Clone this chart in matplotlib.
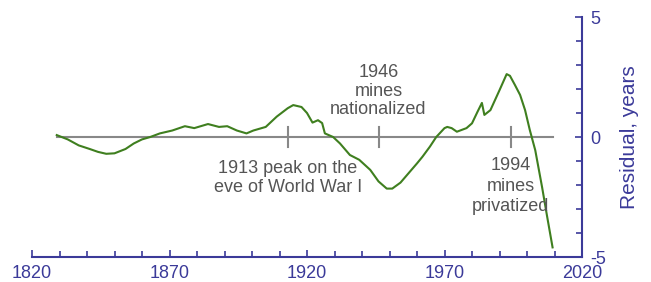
import numpy as np
import matplotlib.pyplot as plt
from matplotlib.ticker import MultipleLocator

# residual curve
years = [1829, 1833, 1837, 1841, 1844, 1847, 1850, 1854, 1857, 1860, 1863, 1866.5,
         1871, 1875.6, 1879, 1884, 1888, 1891, 1894.5, 1898, 1900.5, 1905, 1909,
         1913, 1915, 1918, 1920, 1922, 1924, 1925.5, 1926.5, 1929.5, 1932, 1935.6,
         1939, 1943, 1946, 1949, 1951, 1954, 1957, 1960, 1962, 1964.7, 1967, 1970,
         1971, 1972.6, 1974.5, 1978, 1980, 1982, 1983.6, 1984.5, 1986.7, 1990,
         1992.6, 1993.8, 1995.6, 1997.5, 1999.3, 2001, 2003, 2005.5, 2007.3, 2009.3]
resid = [0.08, -0.1, -0.35, -0.5, -0.62, -0.7, -0.68, -0.5, -0.27, -0.1, 0.0, 0.15,
         0.27, 0.45, 0.37, 0.54, 0.42, 0.45, 0.27, 0.15, 0.27, 0.42, 0.85,
         1.2, 1.33, 1.25, 1.0, 0.6, 0.7, 0.58, 0.15, 0.0, -0.27, -0.75,
         -0.95, -1.37, -1.85, -2.15, -2.15, -1.9, -1.5, -1.1, -0.82, -0.4, 0.0, 0.37,
         0.42, 0.37, 0.22, 0.37, 0.57, 1.05, 1.42, 0.92, 1.12, 1.95,
         2.62, 2.55, 2.17, 1.75, 1.12, 0.3, -0.55, -2.1, -3.3, -4.6]

events = [1913, 1946, 1994]
event_text = ['1913 peak on the\neve of World War I', '1946\nmines\nnationalized',
              '1994\nmines\nprivatized']

navy = '#3b3a99'
green = '#3f7f1f'
grey = '#888888'
textgrey = '#555555'

plt.rcParams['font.family'] = ['Liberation Sans', 'DejaVu Sans']

fig = plt.figure(figsize=(6.51, 2.82), dpi=100)
ax = fig.add_axes([32/651, 25/282, 550/651, 240/282])

ax.plot([1829, 2009.5], [0, 0], color=grey, lw=1.5, zorder=1)
for yr in events:
    ax.plot([yr, yr], [-0.4, 0.4], color=grey, lw=1.5, zorder=1)
ax.plot(years, resid, color=green, lw=1.5, zorder=2)

ax.text(1913, -0.95, event_text[0], ha='center', va='top', fontsize=13,
        color=textgrey, linespacing=1.15)
ax.text(1946, 0.8, event_text[1], ha='center', va='bottom', fontsize=13,
        color=textgrey, linespacing=1.1)
ax.text(1994, -0.85, event_text[2], ha='center', va='top', fontsize=13,
        color=textgrey, linespacing=1.25)

ax.set_xlim(1820, 2020)
ax.set_ylim(-5, 5)
ax.spines['left'].set_visible(False)
ax.spines['top'].set_visible(False)
ax.spines['right'].set_color(navy)
ax.spines['bottom'].set_color(navy)
ax.spines['right'].set_linewidth(1.5)
ax.spines['bottom'].set_linewidth(1.5)

ax.yaxis.tick_right()
ax.yaxis.set_label_position('right')
ax.set_yticks([-5, 0, 5])
ax.set_yticklabels(['-5', '0', '5'])
ax.yaxis.set_minor_locator(MultipleLocator(1))
ax.set_xticks([1820, 1870, 1920, 1970, 2020])
ax.xaxis.set_minor_locator(MultipleLocator(10))
ax.tick_params(axis='both', which='both', direction='in', color=navy,
               labelcolor=navy, labelsize=13, width=1.2)
ax.tick_params(axis='both', which='major', length=5)
ax.tick_params(axis='both', which='minor', length=4)
ax.tick_params(axis='y', pad=6)
ax.tick_params(axis='x', pad=6)
ax.set_ylabel('Residual, years', color=navy, fontsize=15, labelpad=10)

fig.savefig('out.png', dpi=100)
